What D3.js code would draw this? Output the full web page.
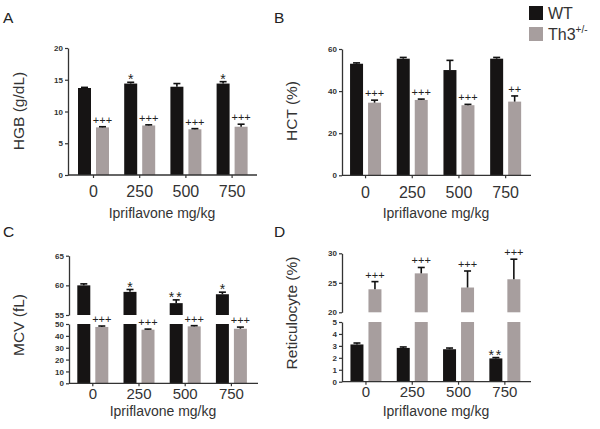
<!DOCTYPE html>
<html><head><meta charset="utf-8">
<script src="https://cdn.jsdelivr.net/npm/d3@7"></script>
<style>
html,body{margin:0;padding:0;background:#fff;}
svg{display:block;font-family:"Liberation Sans",Arial,sans-serif;}
</style></head>
<body>
<svg id="chart" width="600" height="429"></svg>
<script>
// ---------- data ----------
const categories = ["0", "250", "500", "750"];
const seriesNames = ["WT", "Th3"];

const hgbWT = [13.7, 14.4, 13.9, 14.4];
const hgbWTErr = [0.1, 0.2, 0.5, 0.3];
const hgbTh3 = [7.5, 7.8, 7.2, 7.6];
const hgbTh3Err = [0.1, 0.1, 0.1, 0.4];
const hgbWTMarks = ["", "*", "", "*"];
const hgbTh3Marks = ["+++", "+++", "+++", "+++"];

const hctWT = [53.0, 55.4, 50.0, 55.4];
const hctWTErr = [0.4, 0.6, 4.6, 0.6];
const hctTh3 = [34.5, 35.8, 33.3, 35.0];
const hctTh3Err = [1.2, 0.4, 0.4, 2.7];
const hctWTMarks = ["", "", "", ""];
const hctTh3Marks = ["+++", "+++", "+++", "++"];

const mcvWT = [60.0, 58.9, 57.0, 58.5];
const mcvWTErr = [0.25, 0.4, 0.55, 0.35];
const mcvTh3 = [47.5, 45.2, 48.0, 46.0];
const mcvTh3Err = [0.8, 0.5, 0.6, 1.4];
const mcvWTMarks = ["", "*", "**", "*"];
const mcvTh3Marks = ["+++", "+++", "+++", "+++"];

const retWT = [3.12, 2.83, 2.72, 1.95];
const retWTErr = [0.12, 0.08, 0.1, 0.07];
const retTh3 = [23.9, 26.6, 24.2, 25.6];
const retTh3Err = [1.3, 1.0, 2.8, 3.4];
const retWTMarks = ["", "", "", "**"];
const retTh3Marks = ["+++", "+++", "+++", "+++"];

const colors = {WT: "#161414", Th3: "#a79e9e"};
const textColor = "#333";

const svg = d3.select("#chart");

function panel(cfg) {
  const g = svg.append("g");
  const x = d3.scaleBand().domain(categories).range(cfg.xRange).padding(0);
  const xs = d3.scaleBand().domain(seriesNames).range([-15.5, 15.5]).paddingInner(0.278);
  const segs = cfg.segments.map(s => ({...s, y: d3.scaleLinear().domain(s.domain).range(s.range)}));
  const data = [];
  categories.forEach((c, i) => {
    data.push({c, s: "WT", v: cfg.wt[i], e: cfg.wtErr[i], m: cfg.wtMarks[i]});
    data.push({c, s: "Th3", v: cfg.th3[i], e: cfg.th3Err[i], m: cfg.th3Marks[i]});
  });
  // bars per segment
  segs.forEach((sg, si) => {
    const lo = sg.domain[0], hi = sg.domain[1];
    g.selectAll(null).data(data.filter(d => d.v > lo || si === 0)).join("rect")
      .attr("x", d => x(d.c) + x.bandwidth() / 2 + xs(d.s))
      .attr("width", xs.bandwidth())
      .attr("y", d => sg.y(Math.min(d.v, hi)))
      .attr("height", d => sg.y(lo) - sg.y(Math.min(d.v, hi)))
      .attr("fill", d => colors[d.s]);
  });
  // error bars & marks
  data.forEach(d => {
    const top = d.v + d.e;
    const sg = segs.find(s => top >= s.domain[0] && top <= s.domain[1] + 0.001) || segs[segs.length - 1];
    const cx = x(d.c) + x.bandwidth() / 2 + xs(d.s) + xs.bandwidth() / 2;
    const yv = sg.y(d.v), ye = sg.y(top);
    g.append("line").attr("x1", cx).attr("x2", cx).attr("y1", yv).attr("y2", ye)
      .attr("stroke", "#111").attr("stroke-width", 1.6);
    g.append("line").attr("x1", cx - 3.5).attr("x2", cx + 3.5).attr("y1", ye).attr("y2", ye)
      .attr("stroke", "#111").attr("stroke-width", 1.6);
    if (d.m) {
      const star = d.m.indexOf("*") >= 0;
      g.append("text").attr("x", cx).attr("y", ye - (star ? -2 : 3))
        .attr("text-anchor", "middle")
        .attr("font-size", star ? 14 : 11)
        .attr("letter-spacing", star && d.m.length > 1 ? 2 : 0)
        .attr("fill", "#222")
        .text(d.m);
    }
  });
  // y axes
  segs.forEach(sg => {
    const ax = d3.axisLeft(sg.y).tickValues(sg.ticks).tickFormat(d3.format("d"))
      .tickSize(3).tickSizeOuter(0).tickPadding(2);
    const a = g.append("g").attr("transform", `translate(${cfg.axisX},0)`).call(ax);
    a.select(".domain").attr("stroke", textColor).attr("stroke-width", 1.3);
    a.selectAll(".tick line").attr("stroke", textColor).attr("stroke-width", 1.2);
    a.selectAll(".tick text").attr("font-size", 8).attr("font-weight", "bold").attr("fill", "#333")
      .attr("font-family", "'Liberation Sans',Arial,sans-serif");
  });
  // x axis
  const xAxisY = segs[0].range[0];
  const xa = g.append("g").attr("transform", `translate(0,${xAxisY})`)
    .call(d3.axisBottom(x).tickSize(3).tickSizeOuter(0).tickPadding(cfg.tickPad));
  xa.select(".domain").attr("d", `M${cfg.axisX},0H${cfg.axisX + 189}`).attr("stroke", textColor).attr("stroke-width", 1.3);
  xa.selectAll(".tick line").attr("stroke", textColor).attr("stroke-width", 1.2);
  xa.selectAll(".tick text").attr("font-size", cfg.tickFont).attr("fill", textColor)
    .attr("font-family", "'Liberation Sans',Arial,sans-serif");
  // titles
  g.append("text").attr("x", cfg.axisX + 94).attr("y", xAxisY + cfg.titlePad)
    .attr("text-anchor", "middle").attr("font-size", 14).attr("fill", textColor)
    .text("Ipriflavone mg/kg");
  g.append("text").attr("transform", `translate(${cfg.yTitleX},${cfg.yTitleY}) rotate(-90)`)
    .attr("text-anchor", "middle").attr("font-size", 15.5).attr("fill", textColor)
    .text(cfg.yTitle);
  g.append("text").attr("x", cfg.labelX).attr("y", cfg.labelY).attr("font-size", 15.5)
    .attr("fill", "#222").text(cfg.label);
}

panel({label: "A", labelX: 3, labelY: 23, axisX: 68, xRange: [70.4, 255.2],
  segments: [{domain: [0, 20], range: [175, 48], ticks: [0, 5, 10, 15, 20]}],
  wt: hgbWT, wtErr: hgbWTErr, th3: hgbTh3, th3Err: hgbTh3Err, wtMarks: hgbWTMarks, th3Marks: hgbTh3Marks,
  yTitle: "HGB (g/dL)", yTitleX: 24, yTitleY: 111, tickPad: 8, tickFont: 16, titlePad: 43});

panel({label: "B", labelX: 274, labelY: 23, axisX: 342, xRange: [342.2, 529],
  segments: [{domain: [0, 60], range: [175.3, 49], ticks: [0, 20, 40, 60]}],
  wt: hctWT, wtErr: hctWTErr, th3: hctTh3, th3Err: hctTh3Err, wtMarks: hctWTMarks, th3Marks: hctTh3Marks,
  yTitle: "HCT (%)", yTitleX: 297, yTitleY: 111, tickPad: 8, tickFont: 16, titlePad: 43});

panel({label: "C", labelX: 3, labelY: 237, axisX: 69, xRange: [69.7, 254.5],
  segments: [{domain: [0, 50], range: [383.3, 324], ticks: [0, 10, 20, 30, 40, 50]},
             {domain: [55, 65], range: [315, 255.7], ticks: [55, 60, 65]}],
  wt: mcvWT, wtErr: mcvWTErr, th3: mcvTh3, th3Err: mcvTh3Err, wtMarks: mcvWTMarks, th3Marks: mcvTh3Marks,
  yTitle: "MCV (fL)", yTitleX: 24, yTitleY: 325, tickPad: 2, tickFont: 15, titlePad: 33});

panel({label: "D", labelX: 274, labelY: 237, axisX: 342, xRange: [342.8, 528],
  segments: [{domain: [0, 5], range: [381.7, 322], ticks: [0, 1, 2, 3, 4, 5]},
             {domain: [20, 30], range: [312.3, 253.3], ticks: [20, 25, 30]}],
  wt: retWT, wtErr: retWTErr, th3: retTh3, th3Err: retTh3Err, wtMarks: retWTMarks, th3Marks: retTh3Marks,
  yTitle: "Reticulocyte (%)", yTitleX: 297, yTitleY: 313, tickPad: 2, tickFont: 15, titlePad: 34});

// legend
const legend = svg.append("g");
const legendItems = [{s: "WT", label: "WT", y: 6}, {s: "Th3", label: "Th3", y: 27}];
legendItems.forEach(it => {
  legend.append("rect").attr("x", 529).attr("y", it.y).attr("width", 14).attr("height", 14).attr("fill", colors[it.s]);
  const t = legend.append("text").attr("x", 548).attr("y", it.y + 13).attr("font-size", 16).attr("fill", textColor).text(it.label);
  if (it.s === "Th3") t.append("tspan").attr("font-size", 10).attr("dy", -7).text("+/-");
});
</script>
</body></html>
